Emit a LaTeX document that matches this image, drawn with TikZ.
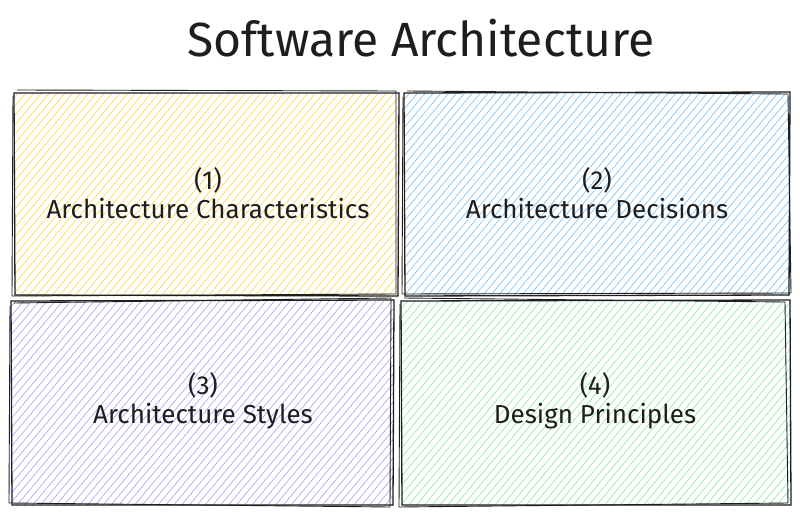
\documentclass[tikz,border=0pt]{standalone}
\usepackage{fontspec}
\setmainfont{Fira Sans}
\usetikzlibrary{patterns.meta}
\definecolor{ylw}{HTML}{FFD43B}
\definecolor{blu}{HTML}{74C0FC}
\definecolor{pur}{HTML}{B197FC}
\definecolor{grn}{HTML}{8CE99A}
\definecolor{ink}{HTML}{1E1E1E}
\tikzset{
  hatch/.style={pattern={Lines[angle=50,distance=6pt,line width=0.6pt]},pattern color=#1},
  edge1/.style={draw=ink,line width=1.3pt},
  edge2/.style={draw=ink,line width=0.9pt},
  lbl/.style={font=\fontsize{26}{29}\selectfont,text=ink,align=center},
}
\begin{document}
\begin{tikzpicture}[x=1pt,y=-1pt]
\useasboundingbox[fill=white] (0,0) rectangle (800,516);
\node[font=\fontsize{48}{52}\selectfont,text=ink] (title) at (421,38) {Software Architecture};
% box 1
\fill[hatch=ylw] (14,94) rectangle (398,296);
\draw[edge1] (14,93) -- (399,93) -- (398,296) -- (15,295) -- cycle;
\draw[edge2] (17,90) -- (396,91) -- (396,294) -- (12,296) -- (13,96);
\node[lbl] (b1) at (208,193) {(1)\\Architecture Characteristics};
% box 2
\fill[hatch=blu] (404,94) rectangle (790,295);
\draw[edge1] (404,93) -- (790,92) -- (789,295) -- (405,296) -- cycle;
\draw[edge2] (407,91) -- (788,94) -- (791,293) -- (402,294) -- (403,97);
\node[lbl] (b2) at (597,193) {(2)\\Architecture Decisions};
% box 3
\fill[hatch=pur] (11,301) rectangle (393,505);
\draw[edge1] (11,301) -- (394,300) -- (393,505) -- (12,505) -- cycle;
\draw[edge2] (14,303) -- (391,298) -- (390,507) -- (9,503) -- (10,306);
\node[lbl] (b3) at (203,401) {(3)\\Architecture Styles};
% box 4
\fill[hatch=grn] (401,301) rectangle (791,505);
\draw[edge1] (401,301) -- (790,300) -- (791,505) -- (402,505) -- cycle;
\draw[edge2] (404,298) -- (785,302) -- (788,503) -- (399,507) -- (400,304);
\node[lbl] (b4) at (595,401) {(4)\\Design Principles};
\end{tikzpicture}
\end{document}
